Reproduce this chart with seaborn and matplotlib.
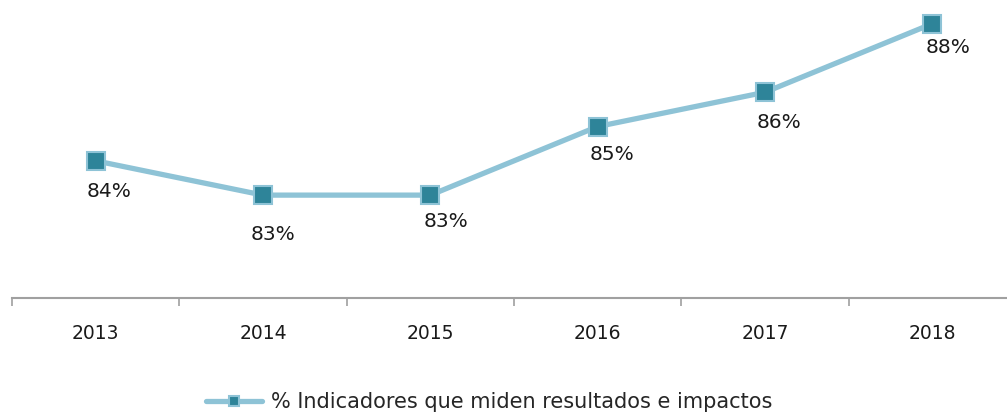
import matplotlib
matplotlib.use("Agg")
import matplotlib.pyplot as plt
import seaborn as sns
import pandas as pd

sns.set_style("white")
plt.rcParams['font.family'] = ['DejaVu Sans']

years = ["2013", "2014", "2015", "2016", "2017", "2018"]
values = [84, 83, 83, 85, 86, 88]
labels = ["84%", "83%", "83%", "85%", "86%", "88%"]
series = "% Indicadores que miden resultados e impactos"

line_col = "#8EC3D6"
mark_col = "#2E8499"

df = pd.DataFrame({"year": years, "value": values})

fig = plt.figure(figsize=(10.07, 4.13), dpi=100)
ax = fig.add_axes([12 / 1007, 115 / 413, 995 / 1007, 298 / 413])

sns.lineplot(data=df, x="year", y="value", ax=ax, color=line_col, linewidth=3.8,
             marker="s", markersize=13, markerfacecolor=mark_col,
             markeredgecolor=line_col, markeredgewidth=1.5, label=series)

# labels under the points
offsets = [(10, -22), (7, -28), (11, -19), (10, -20), (10, -22), (11, -17)]
for i, (v, t) in enumerate(zip(values, labels)):
    ax.annotate(t, (i, v), xytext=offsets[i], textcoords="offset points",
                ha="center", va="center", fontsize=14.5, color="#1a1a1a")

for s in ["top", "right", "left"]:
    ax.spines[s].set_visible(False)
ax.spines["bottom"].set_color("#A0A0A0")
ax.spines["bottom"].set_linewidth(1.5)
ax.set_yticks([])
ax.set_xticks([i - 0.5 for i in range(7)])
ax.set_xticklabels([""] * 7)
ax.tick_params(axis="x", which="major", bottom=True, length=6, width=1.2,
               color="#A0A0A0", direction="out")
ax.set_xticks(range(6), minor=True)
ax.set_xticklabels(years, minor=True, fontsize=13.5, color="#1a1a1a")
ax.tick_params(axis="x", which="minor", bottom=True, length=0, pad=19)
ax.set_xlabel("")
ax.set_ylabel("")

ax.set_xlim(-0.5, 5.446)
ax.set_ylim(80, 88.69)

ax.get_legend().remove()
h, l = ax.get_legend_handles_labels()
fig.legend(h, l, loc="center", bbox_to_anchor=(489 / 1007, 1 - 402 / 413),
           frameon=False, fontsize=15, handlelength=2.7, handletextpad=0.4,
           markerscale=0.6)

fig.savefig("out.png", dpi=100)
